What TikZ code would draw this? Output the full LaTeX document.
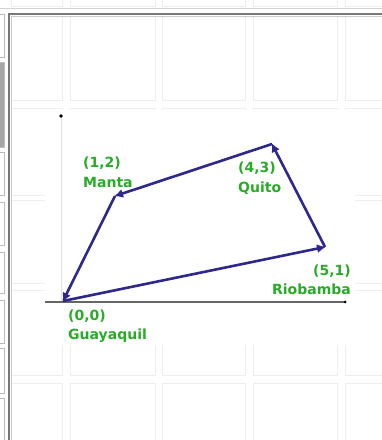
\documentclass[tikz,border=0pt]{standalone}
\usepackage{fontspec}
\newfontfamily\lblfont{DejaVu Sans}
\usetikzlibrary{arrows.meta}
\definecolor{routeblue}{RGB}{46,40,140}
\definecolor{lblgreen}{RGB}{40,172,40}
\definecolor{cellgray}{RGB}{238,238,238}
\definecolor{framegray}{RGB}{120,120,120}
\tikzset{
  cell/.style={draw=cellgray, line width=0.8pt},
  sidebox/.style={draw=gray!55, line width=0.8pt},
  route/.style={draw=routeblue, line width=2.6pt, -{Latex[length=9pt,width=9pt]}, shorten >=-1pt},
  lbl/.style={text=lblgreen, font=\lblfont\bfseries\fontsize{14}{17}\selectfont, inner sep=0pt},
}
\begin{document}
\begin{tikzpicture}[x=1pt,y=1pt]
\useasboundingbox (0,0) rectangle (382,440);
\fill[white] (0,0) rectangle (382,440);
% top strip
\draw[gray!35, line width=0.8pt] (0,432) -- (382,432);
\foreach \xa/\xb in {11/62,70/155,162/245,253/337,345/390}{
  \draw[cell] (\xa,434) rectangle (\xb,446);
}
% left side column
\foreach \ya/\yb in {14/57,152/195,202/245,252/293,300/343,348/393,398/446}{
  \draw[sidebox] (-2,440-\ya) rectangle (4,440-\yb);
}
\fill[gray!70] (0,440-62) rectangle (4,440-147);
\draw[gray!50, line width=0.8pt] (-2,440-62) rectangle (4,440-147);
% grid cells in frame
\foreach \xa/\xb in {11/62,70/155,162/245,253/337,345/390}{
  \foreach \ya/\yb in {16/100,108/195,200/283,290/375,383/446}{
    \draw[cell] (\xa,440-\ya) rectangle (\xb,440-\yb);
  }
}
% frame
\draw[framegray, line width=2pt] (9,-2) -- (9,440-14) -- (390,440-14);
\draw[gray!40, line width=0.8pt] (11.5,-2) -- (11.5,440-16.5) -- (390,440-16.5);
% inner panel
\fill[white] (45,440-110) rectangle (355,440-345);
% axes
\coordinate (xs) at (45,138);
\coordinate (xe) at (345,138);
\coordinate (ys) at (61,138);
\coordinate (ye) at (61,324);
\draw[gray!25, line width=0.8pt] (ys) -- (ye);
\draw[gray!80!black, line width=1.3pt] (xs) -- (xe);
\fill[black] (xe) circle (1.5);
\fill[black] (ye) circle (1.8);
% points
\coordinate (G) at (63,139);
\coordinate (M) at (115,244);
\coordinate (Q) at (272,296);
\coordinate (R) at (325,193);
\draw[route] (G) -- (R);
\draw[route] (R) -- (Q);
\draw[route] (Q) -- (M);
\draw[route] (M) -- (G);
% labels
\node[lbl, anchor=base west] (mc) at (83,440-168) {(1,2)};
\node[lbl, anchor=base west] (mn) at (83,440-188) {Manta};
\node[lbl, anchor=base west] (qc) at (238,440-173) {(4,3)};
\node[lbl, anchor=base west] (qn) at (238,440-193) {Quito};
\node[lbl, anchor=base east] (rc) at (351,440-276) {(5,1)};
\node[lbl, anchor=base east] (rn) at (351,440-295) {Riobamba};
\node[lbl, anchor=base west] (gc) at (68,440-321) {(0,0)};
\node[lbl, anchor=base west] (gn) at (68,440-340) {Guayaquil};
\end{tikzpicture}
\end{document}
